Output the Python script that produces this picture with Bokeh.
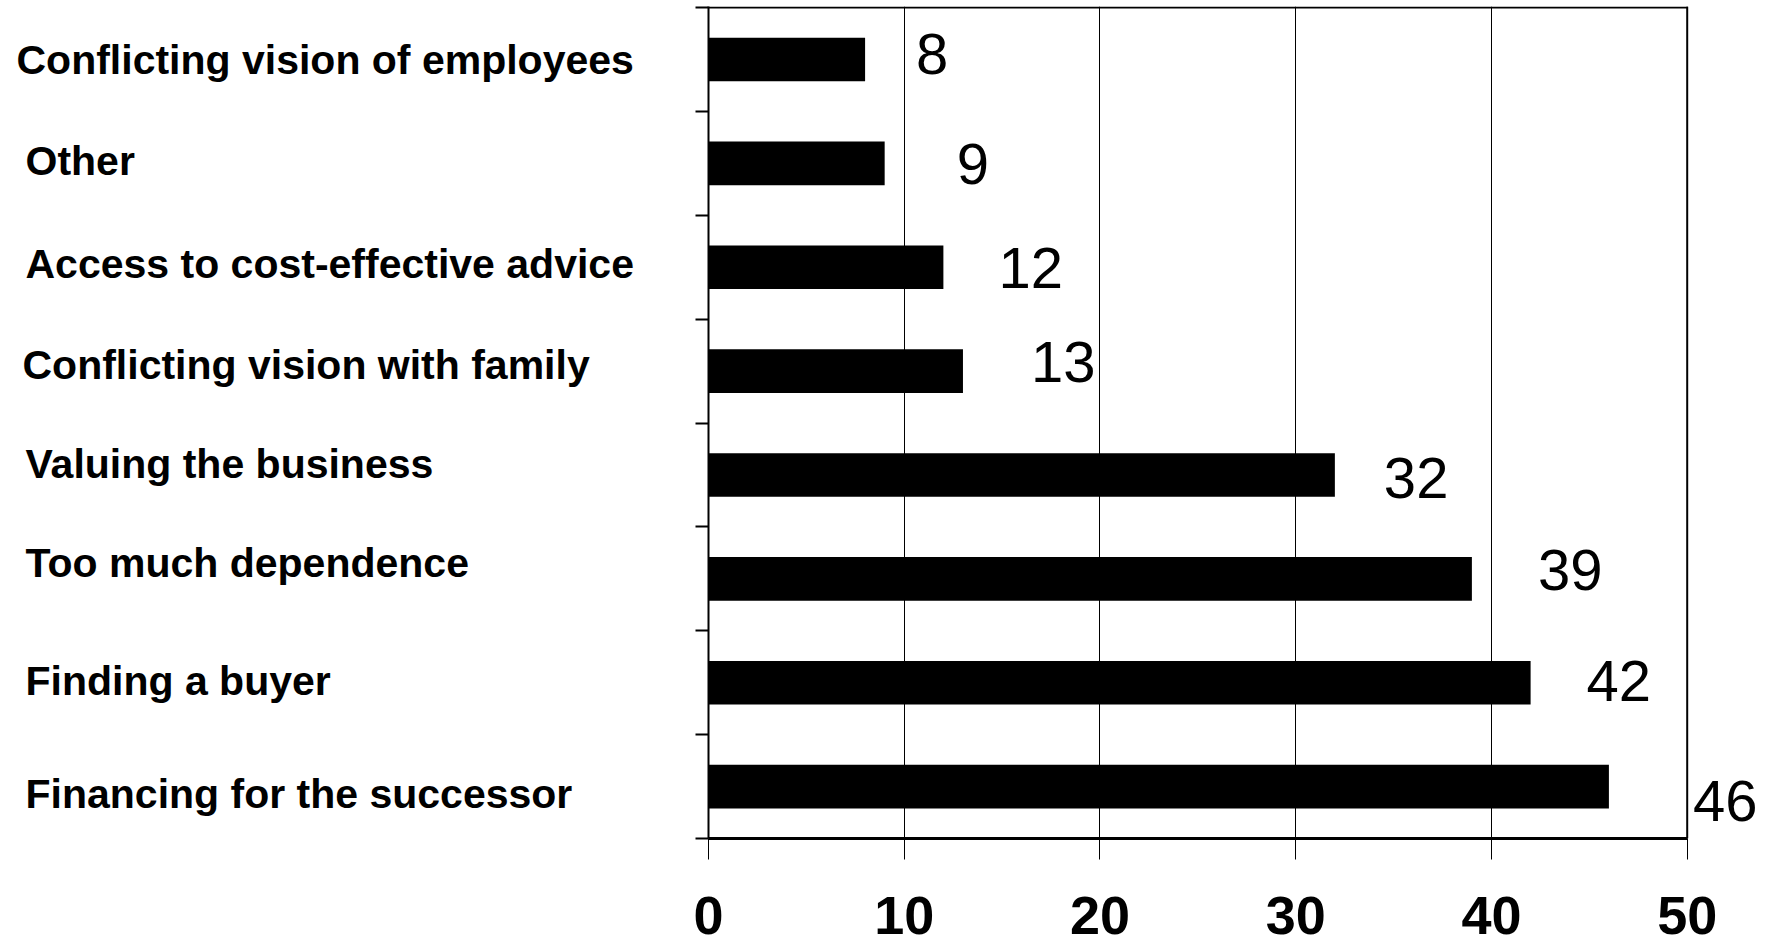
from bokeh.plotting import figure
from bokeh.layouts import row
from bokeh.models import Range1d, FixedTicker, ColumnDataSource, Span
from bokeh.embed import file_html
from bokeh.resources import INLINE
from bokeh.core.properties import value

# ---- data (top to bottom) ----
categories = [
    "Conflicting vision of employees",
    "Other",
    "Access to cost-effective advice",
    "Conflicting vision with family",
    "Valuing the business",
    "Too much dependence",
    "Finding a buyer",
    "Financing for the successor",
]
values = [8, 9, 12, 13, 32, 39, 42, 46]
x_ticks = [0, 10, 20, 30, 40, 50]

# ---- label nudges in screen pixels (style only; +y = down) ----
value_dx = [51, 72, 55, 68, 49, 66, 56, 84]
value_dy = [-5, 1, 1, -9, 3, -9, -2, 14]
cat_dx = [16, 25, 25, 22, 25, 25, 25, 25]
cat_dy = [1, -2, -3, -6, -11, -16, -2, 7]

n = len(categories)
ypos = [n - i - 0.5 for i in range(n)]
value_text = [str(v) for v in values]

src = ColumnDataSource(dict(
    cat=categories, val=values, y=ypos, txt=value_text,
    vdx=value_dx, vdy=value_dy, cdx=cat_dx, cdy=cat_dy,
))

H = 950
TOP = 6
BOTTOM = 112

y_range = Range1d(0, n + 0.01)

# ---- main chart ----
p = figure(width=1087, height=H, x_range=Range1d(0, 54), y_range=y_range,
           output_backend="svg", toolbar_location=None,
           min_border_left=30, min_border_right=0,
           min_border_top=TOP, min_border_bottom=BOTTOM)
p.background_fill_color = "white"
p.border_fill_color = "white"
p.outline_line_color = None

p.hbar(y="y", left=0, right="val", height=0.42, source=src,
       fill_color="black", line_color=None)

# x axis
p.xaxis.ticker = FixedTicker(ticks=x_ticks)
p.xaxis.bounds = (x_ticks[0], x_ticks[-1])
p.xaxis.minor_tick_line_color = None
p.xaxis.major_tick_out = 21
p.xaxis.major_tick_in = 0
p.xaxis.major_tick_line_color = "black"
p.xaxis.major_tick_line_width = 1
p.xaxis.axis_line_width = 3
p.xaxis.axis_line_color = "black"
p.xaxis.major_label_text_font = "Liberation Sans"
p.xaxis.major_label_text_font_size = "54px"
p.xaxis.major_label_text_font_style = "bold"
p.xaxis.major_label_text_color = "black"
p.xaxis.major_label_standoff = 37

# y axis: only the line and the category boundary ticks
p.yaxis.ticker = FixedTicker(ticks=list(range(n + 1)))
p.yaxis.minor_tick_line_color = None
p.yaxis.major_tick_out = 13
p.yaxis.major_tick_in = 0
p.yaxis.major_tick_line_width = 2
p.yaxis.major_tick_line_color = "black"
p.yaxis.axis_line_width = 2
p.yaxis.axis_line_color = "black"
p.yaxis.major_label_text_color = None
p.yaxis.major_label_text_font_size = "1px"
p.yaxis.major_label_standoff = 0

# vertical gridlines
p.xgrid.ticker = FixedTicker(ticks=x_ticks)
p.xgrid.grid_line_color = "black"
p.xgrid.grid_line_width = 1
p.xgrid.grid_line_alpha = 1
p.ygrid.visible = False

# right and top frame lines of the plot box (ending at the last tick)
p.add_layout(Span(location=x_ticks[-1], dimension="height",
                  line_color="black", line_width=2))
p.segment(x0=[x_ticks[0]], x1=[x_ticks[-1]], y0=[n], y1=[n],
          line_color="black", line_width=2)

# value labels
p.text(x="val", y="y", text="txt", source=src,
       x_offset="vdx", y_offset="vdy",
       text_font=value("Liberation Sans"), text_font_size="58px",
       text_color="black", text_align="left", text_baseline="middle")

# ---- category label panel (shares the y scale) ----
q = figure(width=678, height=H, x_range=Range1d(0, 1), y_range=y_range,
           output_backend="svg", toolbar_location=None,
           min_border_left=0, min_border_right=0,
           min_border_top=TOP, min_border_bottom=BOTTOM)
q.axis.visible = False
q.grid.visible = False
q.outline_line_color = None
q.background_fill_color = "white"
q.border_fill_color = "white"
q.text(x=0, y="y", text="cat", source=src, x_offset="cdx", y_offset="cdy",
       text_font=value("Liberation Sans"), text_font_size="41px",
       text_font_style="bold", text_color="black",
       text_align="left", text_baseline="middle")

layout = row(q, p, spacing=0)
open("out.html", "w").write(file_html(layout, INLINE))
